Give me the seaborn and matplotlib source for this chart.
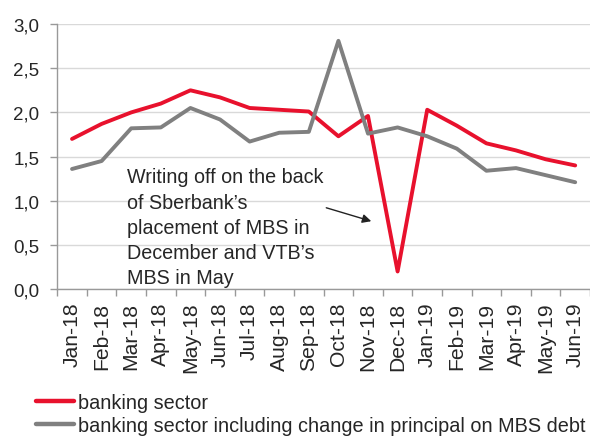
import pandas as pd
import matplotlib.pyplot as plt
import seaborn as sns

months = ["Jan-18", "Feb-18", "Mar-18", "Apr-18", "May-18", "Jun-18", "Jul-18", "Aug-18",
          "Sep-18", "Oct-18", "Nov-18", "Dec-18", "Jan-19", "Feb-19", "Mar-19", "Apr-19",
          "May-19", "Jun-19"]
banking = [1.70, 1.87, 2.00, 2.10, 2.25, 2.17, 2.05, 2.03, 2.01, 1.73, 1.96, 0.20,
           2.03, 1.85, 1.65, 1.57, 1.47, 1.40]
banking_mbs = [1.36, 1.45, 1.82, 1.83, 2.05, 1.92, 1.67, 1.77, 1.78, 2.81, 1.76, 1.83,
               1.73, 1.59, 1.34, 1.37, 1.29, 1.21]

series_names = ["banking sector", "banking sector including change in principal on MBS debt"]
colors = ["#E8112D", "#808080"]

df = pd.DataFrame({"month": months * 2,
                   "value": banking + banking_mbs,
                   "series": [series_names[0]] * len(months) + [series_names[1]] * len(months)})

sns.set_style("white")
plt.rcParams["font.family"] = ["Liberation Sans", "DejaVu Sans"]
plt.rcParams["font.size"] = 13

fig = plt.figure(figsize=(5.9, 4.39), dpi=100)
ax = fig.add_axes([0.097, 0.339, 0.903, 0.604])

sns.lineplot(data=df, x="month", y="value", hue="series", palette=colors,
             linewidth=2.8, ax=ax, legend=True, sort=False)

ax.set_xlim(-0.5, len(months) - 0.5)
ax.set_ylim(0, 3)
ax.set_yticks([0, 0.5, 1.0, 1.5, 2.0, 2.5, 3.0])
ax.set_yticklabels(["0,0", "0,5", "1,0", "1,5", "2,0", "2,5", "3,0"])
ax.yaxis.grid(True, color="#d9d9d9", linewidth=1)
ax.set_axisbelow(True)

# ticks between categories, labels at categories
ax.set_xticks([i - 0.5 for i in range(len(months) + 1)])
ax.set_xticklabels([])
ax.set_xticks(range(len(months)), minor=True)
ax.set_xticklabels(months, minor=True, rotation=90)
ax.tick_params(axis="x", which="major", length=5, width=1, color="#999999", direction="out", bottom=True)
ax.tick_params(axis="x", which="minor", length=0, pad=9, labelsize=15.2)
ax.tick_params(axis="y", length=5, width=1, color="#999999", direction="out", left=True, labelsize=13.5, pad=8)

for s in ["top", "right"]:
    ax.spines[s].set_visible(False)
for s in ["left", "bottom"]:
    ax.spines[s].set_color("#999999")
    ax.spines[s].set_linewidth(1)

ax.set_xlabel("")
ax.set_ylabel("")

ax.text(1.85, 1.38, "Writing off on the back\nof Sberbank\u2019s\nplacement of MBS in\nDecember and VTB\u2019s\nMBS in May",
        fontsize=14.2, va="top", ha="left", linespacing=1.42)
ax.annotate("", xy=(10.2, 0.76), xytext=(8.5, 0.93),
            arrowprops=dict(arrowstyle="-|>", color="#222222", lw=1, mutation_scale=13))

handles, labels = ax.get_legend_handles_labels()
ax.get_legend().remove()
for h in handles:
    h.set_linewidth(3.2)
fig.legend(handles, labels, loc="upper left", bbox_to_anchor=(0.045, 0.126), frameon=False,
           fontsize=14.3, handlelength=1.9, handletextpad=0.2, labelspacing=0.2, borderpad=0)

fig.savefig("out.png", dpi=100)
